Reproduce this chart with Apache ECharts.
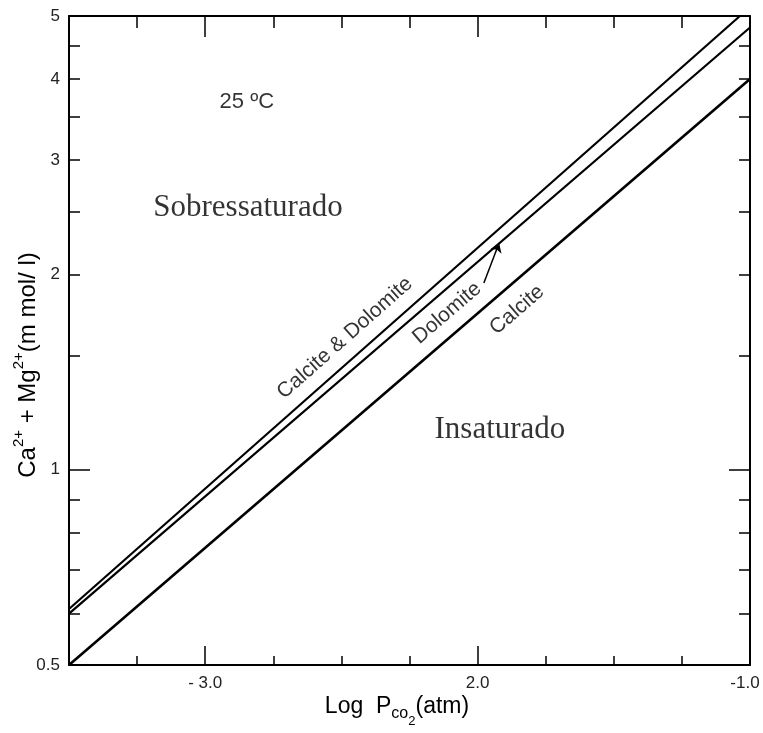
<!DOCTYPE html>
<html><head><meta charset="utf-8">
<script src="https://cdn.jsdelivr.net/npm/echarts@6/dist/echarts.min.js"></script>
<style>html,body{margin:0;padding:0;background:#fff}#c{width:763px;height:733px}</style>
</head><body><div id="c"></div>
<script>
// ---- axis ranges & ticks ----
const xMin = -3.5, xMax = -1.0;
const yMin = 0.5, yMax = 5;
const xTickValues = [-3.5, -3.25, -3.0, -2.75, -2.5, -2.25, -2.0, -1.75, -1.5, -1.25, -1.0];
const xMajorTickValues = [-3.0, -2.0];
const xLabelValues = [-3.0, -2.0, -1.0];
const xLabelTexts = ['- 3.0', '2.0', '-1.0'];
const yTickValues = [0.6, 0.7, 0.8, 0.9, 1.5, 2, 2.5, 3, 3.5, 4, 4.5];
const yMajorTickValues = [1];
const yLabelValues = [0.5, 1, 2, 3, 4, 5];
const yLabelTexts = ['0.5', '1', '2', '3', '4', '5'];

// ---- series (log Pco2, Ca2+ + Mg2+ mmol/l) ----
const calciteX = [-3.5, -1.0];
const calciteY = [0.5, 4.0];
const dolomiteX = [-3.5, -1.0];
const dolomiteY = [0.6, 4.8];
const calDolX = [-3.5, -1.037];
const calDolY = [0.61, 5.0];

// ---- annotations (data coords) ----
const annotationTexts = ['25 ºC', 'Sobressaturado', 'Insaturado', 'Calcite & Dolomite', 'Dolomite', 'Calcite'];
const annotationX = [-2.847, -2.843, -1.918, -2.487, -2.112, -1.855];
const annotationY = [3.69, 2.53, 1.151, 1.595, 1.743, 1.762];
const arrowFrom = [-1.977, 1.939];
const arrowTo = [-1.921, 2.234];

const sans = "'Liberation Sans', Arial, Helvetica, sans-serif";
const serif = "'Liberation Serif', 'Times New Roman', serif";
const ink = '#000';

const annoStyles = [
  { fontFamily: sans, fontSize: 22, rotate: 0 },
  { fontFamily: serif, fontSize: 31, rotate: 0 },
  { fontFamily: serif, fontSize: 31, rotate: 0 },
  { fontFamily: sans, fontSize: 21, rotate: 41.5 },
  { fontFamily: sans, fontSize: 21, rotate: 40.7 },
  { fontFamily: sans, fontSize: 21, rotate: 40.7 }
];
const xLabelShift = [0, 0, 10];

const zip = (xs, ys) => xs.map((x, i) => [x, ys[i]]);
const idxOf = (arr, v) => arr.findIndex(t => Math.abs(t - v) < 1e-6);

function xAxisDef(position, ticks, len, showLine, showLabel) {
  return {
    type: 'value', position: position, min: xMin, max: xMax,
    axisLine: { show: showLine, onZero: false, lineStyle: { color: ink, width: 2 } },
    axisTick: { show: true, inside: true, length: len, customValues: ticks, lineStyle: { color: ink, width: 1.5 } },
    axisLabel: showLabel ? {
      show: true, customValues: xLabelValues, margin: 10,
      formatter: v => { const i = idxOf(xLabelValues, v); return i >= 0 ? '{l' + i + '|' + xLabelTexts[i] + '}' : ''; },
      rich: Object.fromEntries(xLabelValues.map((v, i) => ['l' + i, { fontFamily: sans, fontSize: 17, color: '#222', padding: [0, xLabelShift[i], 0, 0] }])),
      fontFamily: sans, fontSize: 17, color: '#222'
    } : { show: false },
    splitLine: { show: false }
  };
}
function yAxisDef(position, ticks, len, showLine, showLabel) {
  return {
    type: 'log', logBase: 10, position: position, min: yMin, max: yMax,
    axisLine: { show: showLine, onZero: false, lineStyle: { color: ink, width: 2 } },
    axisTick: { show: true, inside: true, length: len, customValues: ticks, lineStyle: { color: ink, width: 1.5 } },
    axisLabel: showLabel ? {
      show: true, customValues: yLabelValues, margin: 9,
      formatter: v => { const i = idxOf(yLabelValues, v); return i >= 0 ? yLabelTexts[i] : ''; },
      fontFamily: sans, fontSize: 17, color: '#222'
    } : { show: false },
    splitLine: { show: false }, minorTick: { show: false }
  };
}

const chart = echarts.init(document.getElementById('c'), null, { renderer: 'canvas' });
chart.setOption({
  animation: false,
  backgroundColor: '#fff',
  grid: { left: 69, right: 13, top: 16, bottom: 68, containLabel: false, outerBoundsMode: 'none' },
  xAxis: [
    xAxisDef('bottom', xTickValues, 9, true, true),
    xAxisDef('bottom', xMajorTickValues, 19, false, false),
    xAxisDef('top', xTickValues, 12, true, false),
    xAxisDef('top', xMajorTickValues, 21, false, false)
  ],
  yAxis: [
    yAxisDef('left', yTickValues, 11, true, true),
    yAxisDef('left', yMajorTickValues, 21, false, false),
    yAxisDef('right', yTickValues, 11, true, false),
    yAxisDef('right', yMajorTickValues, 21, false, false)
  ],
  series: [
    { name: 'Calcite & Dolomite', type: 'line', data: zip(calDolX, calDolY), showSymbol: false, silent: true,
      lineStyle: { color: ink, width: 2.2 } },
    { name: 'Dolomite', type: 'line', data: zip(dolomiteX, dolomiteY), showSymbol: false, silent: true,
      lineStyle: { color: ink, width: 2.2 },
      markLine: { silent: true, symbol: ['none', 'arrow'], symbolSize: 9, animation: false,
        lineStyle: { color: ink, width: 1.5, type: 'solid' }, label: { show: false },
        data: [[{ coord: arrowFrom }, { coord: arrowTo }]] } },
    { name: 'Calcite', type: 'line', data: zip(calciteX, calciteY), showSymbol: false, silent: true,
      lineStyle: { color: ink, width: 2.6 } },
    { name: 'annotations', type: 'scatter', symbolSize: 1, silent: true, itemStyle: { color: 'rgba(0,0,0,0)' },
      data: annotationTexts.map((t, i) => ({
        value: [annotationX[i], annotationY[i]],
        label: { show: true, position: 'inside', formatter: t, color: ink, align: 'center', verticalAlign: 'middle',
          fontFamily: annoStyles[i].fontFamily, fontSize: annoStyles[i].fontSize, rotate: annoStyles[i].rotate }
      })) }
  ],
  graphic: [
    { type: 'text', x: 28, y: 365, rotation: Math.PI / 2, silent: true,
      style: { text: '{m|Ca}{s|2+}{m| + Mg}{s|2+}{m|(m mol/ l)}', align: 'center', verticalAlign: 'middle',
        rich: {
          m: { fontFamily: sans, fontSize: 24, fill: ink },
          s: { fontFamily: sans, fontSize: 15, fill: ink, padding: [0, 0, 18, 0] }
        } } },
    { type: 'text', x: 397, y: 707, silent: true,
      style: { text: '{m|Log  P}{s|co}{t|2}{m|(atm)}', align: 'center', verticalAlign: 'middle',
        rich: {
          m: { fontFamily: sans, fontSize: 23, fill: ink },
          s: { fontFamily: sans, fontSize: 16, fill: ink, padding: [14, 0, 0, 0] },
          t: { fontFamily: sans, fontSize: 13, fill: ink, padding: [28, 0, 0, 0] }
        } } }
  ]
});
</script></body></html>
